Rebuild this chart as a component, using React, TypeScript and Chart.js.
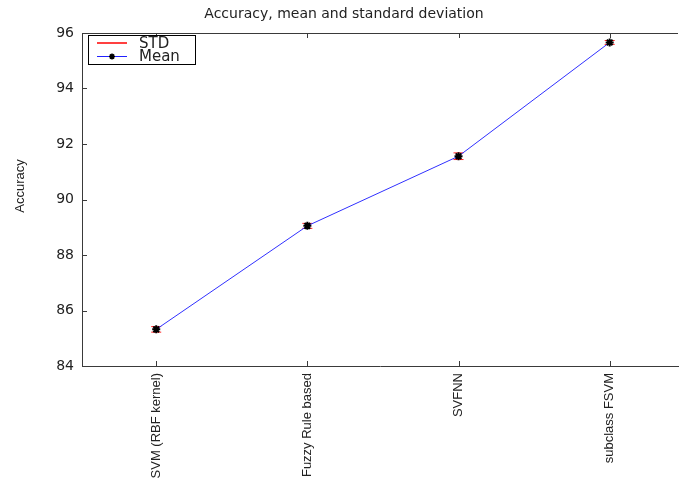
import React, { useEffect, useRef } from "react";
import { Chart, registerables } from "chart.js";

Chart.register(...registerables);

const categories = ["SVM (RBF kernel)", "Fuzzy Rule based", "SVFNN", "subclass FSVM"];
const meanValues = [85.32, 89.05, 91.56, 95.66];
const stdValues = [0.1, 0.09, 0.12, 0.07];
const yTicks = [84, 86, 88, 90, 92, 94, 96];

const AXIS_COLOR = "#3a3a3a";
const TEXT_COLOR = "#222222";

const customPlugin = {
  id: "matlabLook",
  beforeDatasetsDraw(chart: any) {
    const { ctx, scales } = chart;
    const xs = scales.x;
    const ys = scales.y;
    ctx.save();
    ctx.strokeStyle = "#ff2020";
    ctx.lineWidth = 1;
    meanValues.forEach((m, i) => {
      const x = xs.getPixelForValue(i + 1);
      const yTop = ys.getPixelForValue(m + stdValues[i]);
      const yBot = ys.getPixelForValue(m - stdValues[i]);
      ctx.beginPath();
      ctx.moveTo(x, yTop);
      ctx.lineTo(x, yBot);
      ctx.moveTo(x - 5, yTop);
      ctx.lineTo(x + 5, yTop);
      ctx.moveTo(x - 5, yBot);
      ctx.lineTo(x + 5, yBot);
      ctx.stroke();
    });
    ctx.restore();
  },
  afterDraw(chart: any) {
    const { ctx, chartArea, scales } = chart;
    const xs = scales.x;
    const ys = scales.y;
    ctx.save();
    // top border
    ctx.strokeStyle = AXIS_COLOR;
    ctx.lineWidth = 1;
    ctx.beginPath();
    ctx.moveTo(chartArea.left, Math.round(chartArea.top) + 0.5);
    ctx.lineTo(chartArea.right, Math.round(chartArea.top) + 0.5);
    ctx.stroke();
    // inward ticks
    ctx.beginPath();
    yTicks.forEach((v) => {
      const y = Math.round(ys.getPixelForValue(v)) + 0.5;
      ctx.moveTo(chartArea.left, y);
      ctx.lineTo(chartArea.left + 5, y);
    });
    categories.forEach((_, i) => {
      const x = Math.round(xs.getPixelForValue(i + 1)) + 0.5;
      ctx.moveTo(x, chartArea.bottom);
      ctx.lineTo(x, chartArea.bottom - 5);
      ctx.moveTo(x, chartArea.top);
      ctx.lineTo(x, chartArea.top + 5);
    });
    ctx.stroke();

    // title
    ctx.fillStyle = TEXT_COLOR;
    ctx.font = "14px 'DejaVu Sans'";
    ctx.textAlign = "center";
    ctx.textBaseline = "middle";
    ctx.fillText("Accuracy, mean and standard deviation", 344, 14);

    // y axis label
    ctx.save();
    ctx.translate(20, 186);
    ctx.rotate(-Math.PI / 2);
    ctx.font = "13px 'Liberation Sans'";
    ctx.textAlign = "center";
    ctx.textBaseline = "middle";
    ctx.fillText("Accuracy", 0, 0);
    ctx.restore();

    // legend
    const lx = 88.5, ly = 35.5, lw = 107, lh = 29;
    ctx.fillStyle = "#ffffff";
    ctx.fillRect(lx, ly, lw, lh);
    ctx.lineWidth = 1;
    ctx.strokeStyle = "#000000";
    ctx.strokeRect(lx, ly, lw, lh);
    ctx.beginPath();
    ctx.strokeStyle = "#ff0000";
    ctx.lineWidth = 1.5;
    ctx.moveTo(97, 43);
    ctx.lineTo(127, 43);
    ctx.stroke();
    ctx.beginPath();
    ctx.strokeStyle = "#2020ff";
    ctx.lineWidth = 1;
    ctx.moveTo(97, 56.5);
    ctx.lineTo(127, 56.5);
    ctx.stroke();
    // star marker
    ctx.strokeStyle = "#000000";
    ctx.lineWidth = 1.5;
    ctx.beginPath();
    const sx = 112, sy = 56.5, r = 3;
    ctx.moveTo(sx - r, sy); ctx.lineTo(sx + r, sy);
    ctx.moveTo(sx, sy - r); ctx.lineTo(sx, sy + r);
    ctx.moveTo(sx - r * 0.7, sy - r * 0.7); ctx.lineTo(sx + r * 0.7, sy + r * 0.7);
    ctx.moveTo(sx - r * 0.7, sy + r * 0.7); ctx.lineTo(sx + r * 0.7, sy - r * 0.7);
    ctx.stroke();
    ctx.fillStyle = TEXT_COLOR;
    ctx.font = "15px 'DejaVu Sans'";
    ctx.textAlign = "left";
    ctx.textBaseline = "middle";
    ctx.fillText("STD", 139, 44);
    ctx.fillText("Mean", 139, 57);
    ctx.restore();
  },
};

export default function App() {
  const canvasRef = useRef<HTMLCanvasElement>(null);

  useEffect(() => {
    document.body.style.margin = "0";
    const canvas = canvasRef.current;
    if (!canvas) return;
    const chart = new Chart(canvas, {
      type: "line",
      data: {
        datasets: [
          {
            label: "Mean",
            data: meanValues.map((v, i) => ({ x: i + 1, y: v })),
            borderColor: "#3030ff",
            borderWidth: 1,
            pointStyle: "star",
            pointRadius: 4,
            pointBorderColor: "#000000",
            pointBackgroundColor: "#000000",
            pointBorderWidth: 2,
            fill: false,
            tension: 0,
          },
        ],
      },
      options: {
        animation: false,
        responsive: false,
        devicePixelRatio: 1,
        layout: { padding: { top: 33, left: 0, right: 0, bottom: 0 } },
        plugins: {
          legend: { display: false },
          title: { display: false },
          tooltip: { enabled: false },
        },
        scales: {
          x: {
            type: "linear",
            min: 0.509,
            max: 4.452,
            afterFit: (scale: any) => {
              scale.height = 119;
            },
            afterBuildTicks: (scale: any) => {
              scale.ticks = categories.map((_, i) => ({ value: i + 1 }));
            },
            grid: { display: true, drawOnChartArea: false, drawTicks: false, color: AXIS_COLOR },
            border: { display: true, color: AXIS_COLOR, width: 1 },
            ticks: {
              autoSkip: false,
              minRotation: 90,
              maxRotation: 90,
              padding: 7,
              color: TEXT_COLOR,
              font: { family: "'Liberation Sans'", size: 13 },
              callback: (value: any) => categories[Number(value) - 1] ?? "",
            },
          },
          y: {
            type: "linear",
            min: 84,
            max: 96,
            afterFit: (scale: any) => {
              scale.width = 82;
            },
            afterBuildTicks: (scale: any) => {
              scale.ticks = yTicks.map((v) => ({ value: v }));
            },
            grid: { display: true, drawOnChartArea: false, drawTicks: false, color: AXIS_COLOR },
            border: { display: true, color: AXIS_COLOR, width: 1 },
            ticks: {
              padding: 8,
              color: TEXT_COLOR,
              font: { family: "'DejaVu Sans'", size: 14 },
            },
          },
        },
      },
      plugins: [customPlugin],
    });
    return () => chart.destroy();
  }, []);

  return (
    <div style={{ width: 684, height: 485, overflow: "hidden", background: "#ffffff" }}>
      <canvas ref={canvasRef} width={684} height={485} style={{ display: "block" }} />
    </div>
  );
}
